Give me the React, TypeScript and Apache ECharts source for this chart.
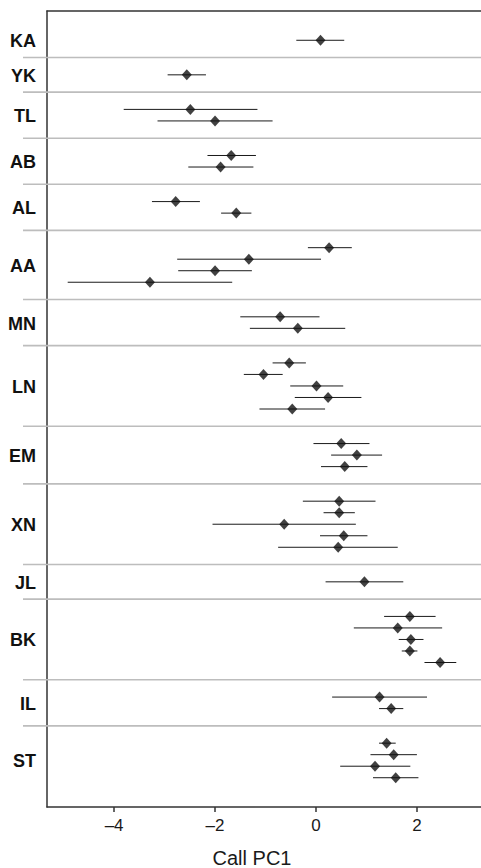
import React, { useEffect, useRef } from "react";
import * as echarts from "echarts";

const groups = ["KA", "YK", "TL", "AB", "AL", "AA", "MN", "LN", "EM", "XN", "JL", "BK", "IL", "ST"];
const groupSizes = [1, 1, 2, 2, 2, 4, 2, 5, 3, 5, 1, 5, 2, 4];
const estimates = [
  0.09, -2.56, -2.49, -2.0, -1.68, -1.89, -2.78, -1.58, 0.26, -1.33, -2.0, -3.29, -0.71, -0.36,
  -0.53, -1.04, 0.01, 0.24, -0.47, 0.5, 0.81, 0.57, 0.46, 0.46, -0.63, 0.55, 0.44, 0.96, 1.86,
  1.62, 1.88, 1.86, 2.46, 1.26, 1.49, 1.4, 1.54, 1.17, 1.58,
];
const lower = [
  -0.39, -2.94, -3.81, -3.14, -2.15, -2.53, -3.25, -1.88, -0.16, -2.75, -2.73, -4.92, -1.5, -1.31,
  -0.86, -1.43, -0.51, -0.42, -1.12, -0.05, 0.3, 0.1, -0.26, 0.15, -2.05, 0.08, -0.75, 0.19, 1.35,
  0.75, 1.64, 1.7, 2.15, 0.32, 1.25, 1.25, 1.08, 0.48, 1.13,
];
const upper = [
  0.56, -2.18, -1.16, -0.86, -1.19, -1.24, -2.3, -1.28, 0.71, 0.1, -1.27, -1.66, 0.07, 0.58, -0.2,
  -0.66, 0.54, 0.9, 0.18, 1.06, 1.31, 1.02, 1.18, 0.77, 0.79, 1.02, 1.62, 1.73, 2.37, 2.5, 2.13,
  2.01, 2.78, 2.2, 1.73, 1.58, 2.0, 1.87, 2.03,
];
const xTicks = [-4, -2, 0, 2];
const xTitle = "Call PC1";

const X_MIN = -5.33;
const X_MAX = 3.27;

export default function App() {
  const ref = useRef<HTMLDivElement>(null);

  useEffect(() => {
    if (!ref.current) return;
    const chart = echarts.init(ref.current, null, { renderer: "svg" });

    // row layout: 1 unit between rows in a group, 3 units between groups
    const rows: number[] = [];
    const centers: number[] = [];
    const seps: (number | null)[] = [];
    let pos = 0;
    groupSizes.forEach((n, gi) => {
      const first = pos;
      for (let i = 0; i < n; i++) {
        rows.push(pos);
        pos += 1;
      }
      const last = pos - 1;
      centers.push((first + last) / 2);
      seps.push(gi < groupSizes.length - 1 ? last + 1.5 : null);
      pos += 2;
    });

    const font = "'Liberation Sans', Arial, Helvetica, sans-serif";
    const axisLineStyle = { color: "#333", width: 1.5 };

    chart.setOption({
      animation: false,
      grid: { left: 47, right: 0, top: 11, bottom: 61, containLabel: false, outerBoundsMode: "none" },
      xAxis: [
        {
          type: "value",
          min: X_MIN,
          max: X_MAX,
          position: "bottom",
          axisLine: { show: true, onZero: false, lineStyle: axisLineStyle },
          axisTick: { show: true, customValues: xTicks, length: 5, lineStyle: axisLineStyle },
          axisLabel: {
            customValues: xTicks,
            formatter: (v: number) => (v < 0 ? "\u2013" + Math.abs(v) : String(v)),
            fontSize: 17,
            color: "#1a1a1a",
            margin: 10,
            fontFamily: font,
          },
          splitLine: { show: false },
        },
        {
          type: "value",
          min: X_MIN,
          max: X_MAX,
          position: "top",
          axisLine: { show: true, onZero: false, lineStyle: axisLineStyle },
          axisTick: { show: false },
          axisLabel: { show: false },
          splitLine: { show: false },
        },
      ],
      yAxis: {
        type: "value",
        inverse: true,
        min: -2.54,
        max: 66.54,
        position: "left",
        axisLine: { show: true, onZero: false, lineStyle: axisLineStyle },
        axisTick: { show: false },
        axisLabel: { show: false },
        splitLine: { show: false },
      },
      graphic: [
        {
          type: "text",
          x: 252,
          y: 858,
          style: {
            text: xTitle,
            fontSize: 20,
            fontFamily: font,
            fill: "#1a1a1a",
            align: "center",
            verticalAlign: "middle",
          },
        },
      ],
      series: [
        {
          type: "custom",
          xAxisIndex: 0,
          yAxisIndex: 0,
          clip: false,
          silent: true,
          data: groups.map((g, i) => [X_MIN, centers[i]]),
          encode: { x: 0, y: 1 },
          renderItem: (params: any, api: any) => {
            const i = params.dataIndex;
            const pc = api.coord([X_MIN, centers[i]]);
            const x0 = pc[0];
            const yc = pc[1];
            const children: any[] = [
              {
                type: "text",
                x: x0 - 11,
                y: yc + 1,
                style: {
                  text: groups[i],
                  fontSize: 18,
                  fontWeight: "bold",
                  fontFamily: font,
                  fill: "#111",
                  align: "right",
                  verticalAlign: "middle",
                },
              },
            ];
            const s = seps[i];
            if (s != null) {
              const ys = api.coord([X_MIN, s])[1];
              children.push({
                type: "line",
                shape: { x1: x0 - 24, y1: ys, x2: api.getWidth(), y2: ys },
                style: { stroke: "#bdbdbd", lineWidth: 1.6 },
                z2: -1,
              });
            }
            return { type: "group", children };
          },
        },
        {
          type: "custom",
          xAxisIndex: 0,
          yAxisIndex: 0,
          silent: true,
          data: estimates.map((_, i) => [lower[i], upper[i], rows[i]]),
          encode: { x: [0, 1], y: 2 },
          renderItem: (params: any, api: any) => {
            const p1 = api.coord([api.value(0), api.value(2)]);
            const p2 = api.coord([api.value(1), api.value(2)]);
            return {
              type: "line",
              shape: { x1: p1[0], y1: p1[1], x2: p2[0], y2: p2[1] },
              style: { stroke: "#1a1a1a", lineWidth: 1 },
            };
          },
        },
        {
          type: "scatter",
          xAxisIndex: 0,
          yAxisIndex: 0,
          symbol: "diamond",
          symbolSize: [10, 11],
          itemStyle: { color: "#111" },
          silent: true,
          z: 5,
          data: estimates.map((e, i) => [e, rows[i]]),
        },
      ],
    });

    return () => chart.dispose();
  }, []);

  return (
    <div
      ref={ref}
      style={{ position: "absolute", left: 0, top: 0, width: 481, height: 868, background: "#fff" }}
    />
  );
}
